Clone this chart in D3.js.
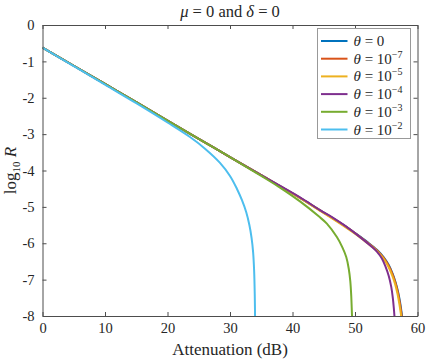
<!DOCTYPE html>
<html>
<head>
<meta charset="utf-8">
<script src="https://cdn.jsdelivr.net/npm/d3@7"></script>
<style>
  body { margin: 0; background: #fff; }
  svg text { font-family: 'Liberation Serif', 'Times New Roman', serif; }
</style>
</head>
<body>
<div id="chart"></div>
<script>
"use strict";

// tick labels
const xTicks = [0, 10, 20, 30, 40, 50, 60];
const yTicks = [0, -1, -2, -3, -4, -5, -6, -7, -8];

// series labels (exponent, null for theta = 0)
const seriesExp = [null, "-7", "-5", "-4", "-3", "-2"];
const seriesColors = ["#0072BD", "#D95319", "#EDB120", "#7E2F8E", "#77AC30", "#4DBEEE"];

// attenuation (dB) / log10 R
const theta0X = [0, 5, 10, 15, 20, 25, 30, 35, 40, 44, 48, 50, 52, 53.5, 54.6, 55.4, 56.0, 56.5, 56.92, 57.23, 57.45, 57.58, 57.66];
const theta0Y = [-0.62, -1.12, -1.62, -2.12, -2.63, -3.13, -3.63, -4.13, -4.63, -5.05, -5.48, -5.72, -5.97, -6.18, -6.39, -6.6, -6.83, -7.08, -7.36, -7.64, -7.9, -8.08, -8.2];

const theta7X = [0, 5, 10, 15, 20, 25, 30, 35, 40, 44, 48, 50, 52, 53.5, 54.6, 55.4, 56.0, 56.5, 56.9, 57.2, 57.42, 57.55, 57.62];
const theta7Y = [-0.62, -1.12, -1.62, -2.12, -2.63, -3.13, -3.63, -4.13, -4.63, -5.05, -5.48, -5.72, -5.98, -6.19, -6.4, -6.62, -6.85, -7.1, -7.38, -7.66, -7.92, -8.1, -8.2];

const theta5X = [0, 5, 10, 15, 20, 25, 30, 35, 40, 44, 48, 50, 52, 53.5, 54.5, 55.3, 55.9, 56.4, 56.8, 57.1, 57.33, 57.46, 57.53];
const theta5Y = [-0.62, -1.12, -1.62, -2.12, -2.63, -3.13, -3.63, -4.13, -4.63, -5.06, -5.5, -5.74, -6.0, -6.21, -6.41, -6.63, -6.86, -7.11, -7.39, -7.67, -7.93, -8.1, -8.2];

const theta4X = [0, 5, 10, 15, 20, 25, 30, 35, 41.2, 44.4, 46.5, 48.5, 50.5, 52.5, 53.5, 54.3, 54.9, 55.4, 55.8, 56.05, 56.22, 56.33, 56.38];
const theta4Y = [-0.62, -1.12, -1.62, -2.12, -2.63, -3.13, -3.63, -4.13, -4.74, -5.09, -5.3, -5.53, -5.79, -6.07, -6.23, -6.42, -6.65, -6.9, -7.2, -7.5, -7.8, -8.05, -8.2];

const theta3X = [0, 5, 10, 15, 20, 25, 30, 35, 38, 41.2, 44.2, 45.5, 47.1, 48.0, 48.6, 49.0, 49.25, 49.4, 49.5, 49.56];
const theta3Y = [-0.62, -1.12, -1.62, -2.12, -2.63, -3.13, -3.63, -4.15, -4.47, -4.85, -5.26, -5.46, -5.83, -6.12, -6.38, -6.7, -7.05, -7.45, -7.9, -8.2];

const theta2X = [0, 5, 10, 15, 20, 23.6, 26, 28.4, 30, 31.1, 31.9, 32.6, 33.1, 33.45, 33.7, 33.86, 33.96, 34.02];
const theta2Y = [-0.62, -1.13, -1.64, -2.15, -2.68, -3.08, -3.4, -3.79, -4.15, -4.5, -4.81, -5.15, -5.5, -5.85, -6.25, -6.75, -7.4, -8.2];

const seriesX = [theta0X, theta7X, theta5X, theta4X, theta3X, theta2X];
const seriesY = [theta0Y, theta7Y, theta5Y, theta4Y, theta3Y, theta2Y];

const width = 428, height = 363;
const margin = { top: 25, right: 10.5, bottom: 47, left: 42.5 };
const plotW = width - margin.left - margin.right;
const plotH = height - margin.top - margin.bottom;
const axisColor = "#4d4d4d";
const textColor = "#262626";
const serif = "'Liberation Serif', 'Times New Roman', serif";

const svg = d3.select("#chart").append("svg")
	.attr("width", width)
	.attr("height", height)
	.attr("font-family", serif);

const x = d3.scaleLinear().domain([0, 60]).range([0, plotW]);
const y = d3.scaleLinear().domain([-8, 0]).range([plotH, 0]);

const g = svg.append("g")
	.attr("transform", `translate(${margin.left},${margin.top})`);

svg.append("defs").append("clipPath").attr("id", "clip")
	.append("rect").attr("width", plotW).attr("height", plotH);

// lines
const line = d3.line()
	.x(d => x(d[0]))
	.y(d => y(d[1]))
	.curve(d3.curveCatmullRom.alpha(0.5));

const lines = g.append("g").attr("clip-path", "url(#clip)");
seriesX.forEach((xs, i) => {
	const pts = xs.map((v, j) => [v, seriesY[i][j]]);
	lines.append("path")
		.datum(pts)
		.attr("d", line)
		.attr("fill", "none")
		.attr("stroke", seriesColors[i])
		.attr("stroke-width", 2);
});

// axes (box with inward ticks, MATLAB style)
const tickLen = 4;
const styleAxis = sel => {
	sel.attr("font-family", serif);
	sel.select(".domain").attr("stroke", axisColor);
	sel.selectAll(".tick line").attr("stroke", axisColor);
	sel.selectAll(".tick text")
		.attr("fill", textColor)
		.attr("font-size", 14.5);
};

g.append("g")
	.attr("transform", `translate(0,${plotH})`)
	.call(d3.axisBottom(x).tickValues(xTicks).tickSizeInner(-tickLen).tickSizeOuter(0).tickPadding(7))
	.call(styleAxis);

g.append("g")
	.call(d3.axisTop(x).tickValues(xTicks).tickSizeInner(-tickLen).tickSizeOuter(0).tickFormat(""))
	.call(styleAxis);

g.append("g")
	.call(d3.axisLeft(y).tickValues(yTicks).tickSizeInner(-tickLen).tickSizeOuter(0).tickPadding(8)
		.tickFormat(d => d < 0 ? "-" + Math.abs(d) : String(d)))
	.call(styleAxis);

g.append("g")
	.attr("transform", `translate(${plotW},0)`)
	.call(d3.axisRight(y).tickValues(yTicks).tickSizeInner(-tickLen).tickSizeOuter(0).tickFormat(""))
	.call(styleAxis);

// title
const title = svg.append("text")
	.attr("x", margin.left + plotW / 2)
	.attr("y", 17)
	.attr("text-anchor", "middle")
	.attr("font-size", 16.5)
	.attr("fill", textColor);
title.append("tspan").attr("font-style", "italic").text("μ");
title.append("tspan").text(" = 0 and ");
title.append("tspan").attr("font-style", "italic").text("δ");
title.append("tspan").text(" = 0");

// x label
svg.append("text")
	.attr("x", margin.left + plotW / 2)
	.attr("y", 355)
	.attr("text-anchor", "middle")
	.attr("font-size", 17)
	.attr("fill", textColor)
	.text("Attenuation (dB)");

// y label
const yl = svg.append("text")
	.attr("transform", `translate(16,${margin.top + plotH / 2}) rotate(-90)`)
	.attr("text-anchor", "middle")
	.attr("font-size", 17)
	.attr("fill", textColor);
yl.append("tspan").text("log");
yl.append("tspan").attr("dy", 4).attr("font-size", 11).text("10");
yl.append("tspan").attr("dy", -4).text(" ");
yl.append("tspan").attr("font-style", "italic").text("R");

// legend
const legX = 317.5, legY = 28.5, legW = 93, legH = 110, rowH = 17.7;
const leg = svg.append("g");
leg.append("rect")
	.attr("x", legX).attr("y", legY)
	.attr("width", legW).attr("height", legH)
	.attr("fill", "#fff")
	.attr("stroke", "#999")
	.attr("stroke-width", 1);

seriesExp.forEach((e, i) => {
	const cy = legY + 12.5 + i * rowH;
	leg.append("line")
		.attr("x1", legX + 3.5).attr("x2", legX + 30)
		.attr("y1", cy).attr("y2", cy)
		.attr("stroke", seriesColors[i])
		.attr("stroke-width", 2);
	const t = leg.append("text")
		.attr("x", legX + 36)
		.attr("y", cy + 5)
		.attr("font-size", 15)
		.attr("fill", textColor);
	t.append("tspan").attr("font-style", "italic").text("θ");
	if (e === null) {
		t.append("tspan").text(" = 0");
	} else {
		t.append("tspan").text(" = 10");
		t.append("tspan").attr("dy", -6).attr("font-size", 10).text(e.replace("-", "−"));
	}
});
</script>
</body>
</html>
